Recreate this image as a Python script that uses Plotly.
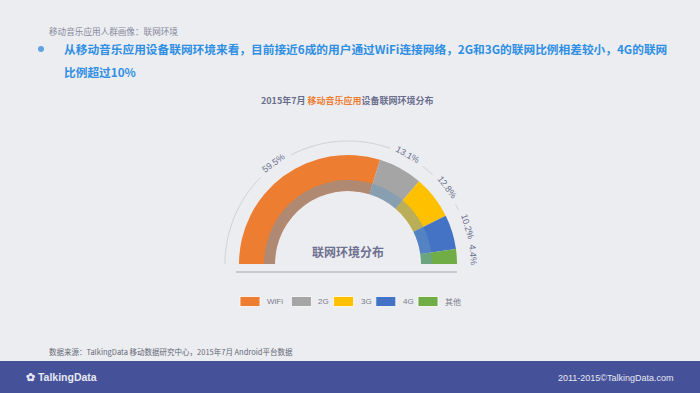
import math
import plotly.graph_objects as go

# ---------------- data ----------------
categories = ["WiFi", "2G", "3G", "4G", "其他"]
shares = [59.5, 13.1, 12.8, 10.2, 4.4]
labels = ["59.5%", "13.1%", "12.8%", "10.2%", "4.4%"]
colors = ["#ED7D31", "#A5A5A5", "#FFC000", "#4472C4", "#70AD47"]

# ---------------- layout constants ----------------
W, H = 700, 393
BG = "#ECEDF1"
CX, CY = 348, 264          # gauge centre (px)
RMAX = 130                 # radial axis max -> px
R_IN, R_MID, R_OUT = 73, 84, 109
R_ARC = 123
TXT = "#6A6D8C"
CJK = "Noto Sans CJK SC"


def px(x):
    return x / W


def py(y):
    return 1 - y / H


def note(x, y, text, size, color, family=CJK, xanchor="left", **kw):
    return dict(x=px(x), y=py(y), xref="paper", yref="paper", text=text,
                showarrow=False, xanchor=xanchor, yanchor="middle",
                font=dict(family=family, size=size, color=color), **kw)


total = sum(shares)
span = [s / total * 180 for s in shares]
starts = []
acc = 0
for s in span:
    starts.append(180 - acc)
    acc += s
mids = [st - s / 2 for st, s in zip(starts, span)]

fig = go.Figure()

# coloured ring (full thickness)
for cat, th, wd, col in zip(categories, mids, span, colors):
    fig.add_trace(go.Barpolar(
        r=[R_OUT - R_IN], base=[R_IN], theta=[th], width=[wd],
        marker=dict(color=col, line=dict(width=0)),
        name=cat, showlegend=False, hoverinfo="skip"))

# translucent inner band giving the muted inner ring
fig.add_trace(go.Barpolar(
    r=[R_MID - R_IN] * len(shares), base=[R_IN] * len(shares), theta=mids, width=span,
    marker=dict(color="rgba(101,152,196,0.45)", line=dict(width=0)),
    showlegend=False, hoverinfo="skip"))

# outer thin arc with gaps for the labels
arc_t, arc_r = [], []
gaps = []
for th, lab in zip(mids, labels):
    half = math.degrees((len(lab) * 5.3 / 2 + 5) / R_ARC)
    gaps.append((th - half, th + half))
t = 180.0
while t >= 0:
    if any(g0 <= t <= g1 for g0, g1 in gaps):
        if arc_t and arc_t[-1] is not None:
            arc_t.append(None)
            arc_r.append(None)
    else:
        arc_t.append(t)
        arc_r.append(R_ARC)
    t -= 0.5
fig.add_trace(go.Scatterpolar(
    r=arc_r, theta=arc_t, mode="lines", line=dict(color="#CDCED3", width=1),
    showlegend=False, hoverinfo="skip", connectgaps=False))

annotations = []
# percentage labels along the arc
for th, lab in zip(mids, labels):
    rad = math.radians(th)
    x = CX + (R_ARC + 2) * math.cos(rad)
    y = CY - (R_ARC + 2) * math.sin(rad)
    annotations.append(note(x, y, lab, 9, TXT, family="Arial", xanchor="center",
                            textangle=90 - th))

# centre label
annotations.append(note(CX, 251, "<b>联网环境分布</b>", 12, "#6E7190", xanchor="center"))

# chart title
annotations.append(note(347, 100,
                        "<b>2015年7月 <span style='color:#ED7D31'>移动音乐应用</span>设备联网环境分布</b>",
                        9, TXT, xanchor="center"))

# page header texts
annotations.append(note(47, 31, "移动音乐应用人群画像：联网环境", 8.6, "#85879A"))
annotations.append(note(62, 49,
                        "<b>从移动音乐应用设备联网环境来看，目前接近6成的用户通过WiFi连接网络，2G和3G的联网比例相差较小，4G的联网</b>",
                        11.7, "#2F8FE3"))
annotations.append(note(62, 71, "<b>比例超过10%</b>", 11.7, "#2F8FE3"))

# source
annotations.append(note(47, 351, "数据来源：TalkingData 移动数据研究中心，2015年7月 Android平台数据",
                        7.5, "#666877"))

# footer texts
annotations.append(note(24, 377, "<b>✿ TalkingData</b>", 10.5, "#E6E8F2",
                        family="Liberation Sans Narrow, Arial"))
annotations.append(note(676, 378, "2011-2015©TalkingData.com", 9, "#E6E8F2",
                        family="Arial", xanchor="right"))

shapes = []
# footer bar
shapes.append(dict(type="rect", xref="paper", yref="paper", x0=0, x1=1, y0=0, y1=py(361),
                   fillcolor="#45529A", line=dict(width=0), layer="below"))
# baseline
shapes.append(dict(type="line", xref="paper", yref="paper", x0=px(236), x1=px(457),
                   y0=py(272), y1=py(272), line=dict(color="#BDBEC6", width=1.5)))
# bullet
shapes.append(dict(type="circle", xref="paper", yref="paper", x0=px(38), x1=px(44),
                   y0=py(46), y1=py(52), fillcolor="#5FA3E0", line=dict(width=0)))

# manual legend
lx = 240
for cat, col in zip(categories, colors):
    shapes.append(dict(type="rect", xref="paper", yref="paper", x0=px(lx), x1=px(lx + 20),
                       y0=py(306.5), y1=py(296.5), fillcolor=col,
                       line=dict(color="#FFFFFF", width=0.8)))
    annotations.append(note(lx + 25, 301.5, cat, 8, "#7A7C8C", family="Arial, " + CJK))
    tw = sum(8 if ord(c) > 255 else 4.6 for c in cat)
    lx += 25 + tw + 8

fig.update_layout(
    width=W, height=H, margin=dict(l=0, r=0, t=0, b=0),
    paper_bgcolor=BG, plot_bgcolor=BG,
    showlegend=False,
    polar=dict(
        domain=dict(x=[px(CX - RMAX), px(CX + RMAX)], y=[py(CY), py(CY - RMAX)]),
        sector=[0, 180], bgcolor="rgba(0,0,0,0)", bargap=0,
        radialaxis=dict(range=[0, RMAX], visible=False),
        angularaxis=dict(visible=False, direction="counterclockwise", rotation=0),
    ),
    annotations=annotations, shapes=shapes,
)

fig.write_html("out.html")
